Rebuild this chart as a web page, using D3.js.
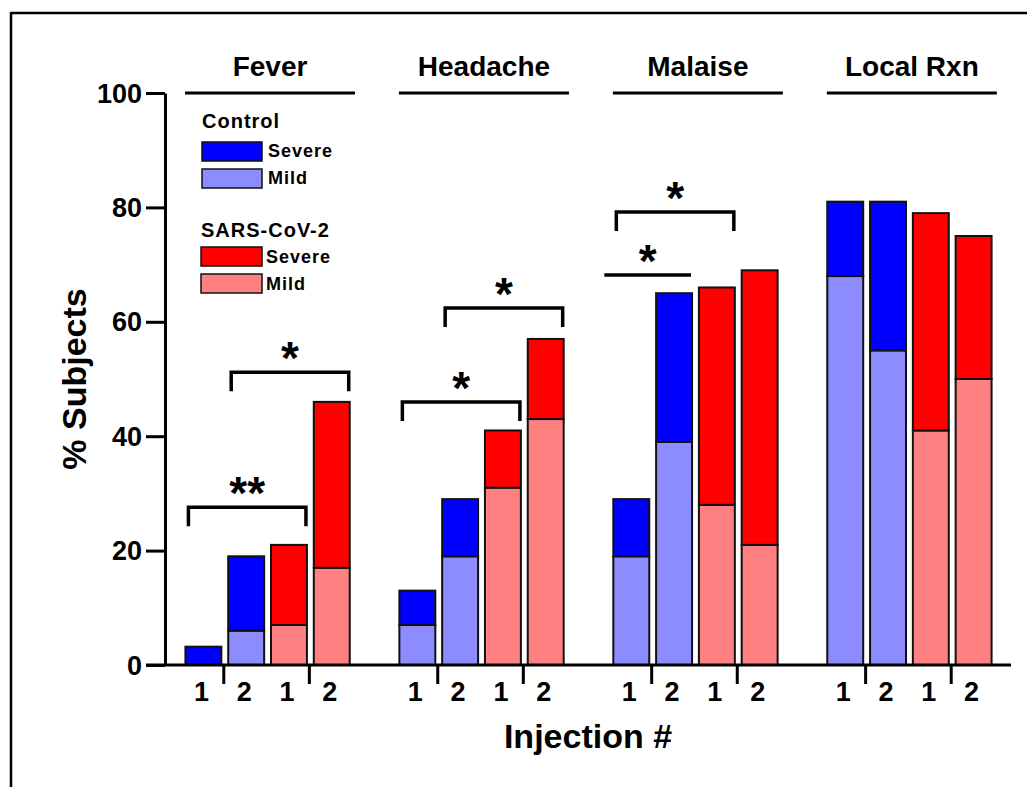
<!DOCTYPE html>
<html>
<head>
<meta charset="utf-8">
<script src="https://cdn.jsdelivr.net/npm/d3@7"></script>
<style>
  html, body { margin: 0; padding: 0; background: #fff; }
  svg { display: block; }
  text { font-family: "Liberation Sans", Arial, Helvetica, sans-serif; font-weight: bold; fill: #000; }
</style>
</head>
<body>
<svg id="chart" width="1027" height="787"></svg>
<script>
// ---------- data ----------
const symptoms = ["Fever", "Headache", "Malaise", "Local Rxn"];
const barKeys = ["C1", "C2", "S1", "S2"];
const barLabels = ["1", "2", "1", "2"];
const barGroup = ["Control", "Control", "SARS-CoV-2", "SARS-CoV-2"];

// % subjects, per symptom, bars in order Control #1, Control #2, SARS #1, SARS #2
const mildValues = {
  "Fever":     [0, 6, 7, 17],
  "Headache":  [7, 19, 31, 43],
  "Malaise":   [19, 39, 28, 21],
  "Local Rxn": [68, 55, 41, 50]
};
const severeValues = {
  "Fever":     [3.2, 13, 14, 29],
  "Headache":  [6, 10, 10, 14],
  "Malaise":   [10, 26, 38, 48],
  "Local Rxn": [13, 26, 38, 25]
};
const yTicks = [0, 20, 40, 60, 80, 100];

// significance comparisons: symptom, from bar, to bar, bracket level (%), label, drop ends
const comparisons = [
  { symptom: "Fever",    from: 0, to: 2, level: 27.6, label: "**", ends: true },
  { symptom: "Fever",    from: 1, to: 3, level: 51.2, label: "*",  ends: true },
  { symptom: "Headache", from: 0, to: 2, level: 46.0, label: "*",  ends: true },
  { symptom: "Headache", from: 1, to: 3, level: 62.4, label: "*",  ends: true },
  { symptom: "Malaise",  from: 0, to: 1, level: 68.2, label: "*",  ends: false },
  { symptom: "Malaise",  from: 0, to: 2, level: 79.2, label: "*",  ends: true }
];

const legendGroups = ["Control", "SARS-CoV-2"];
const legendLevels = ["Severe", "Mild"];

const colors = {
  "Control":    { "Severe": "#0000ff", "Mild": "#8c8cff" },
  "SARS-CoV-2": { "Severe": "#ff0000", "Mild": "#ff8080" }
};

// ---------- layout ----------
const svg = d3.select("#chart");

// frame (top and left edges)
svg.append("line").attr("x1", 11).attr("x2", 1027).attr("y1", 13).attr("y2", 13)
  .attr("stroke", "#000").attr("stroke-width", 2.5);
svg.append("line").attr("x1", 11).attr("x2", 11).attr("y1", 12).attr("y2", 787)
  .attr("stroke", "#000").attr("stroke-width", 2.5);

const y = d3.scaleLinear().domain([0, 100]).range([665, 93]);
const xOuter = d3.scaleBand().domain(symptoms).range([182, 995]).paddingInner(0.2).paddingOuter(0);
const xInner = d3.scaleBand().domain(barKeys).range([0, xOuter.bandwidth()]).paddingInner(0.16).paddingOuter(0.08);

const barX = (s, i) => xOuter(s) + xInner(barKeys[i]);
const bw = xInner.bandwidth();

// ---------- bars ----------
const barData = [];
symptoms.forEach(s => {
  barKeys.forEach((k, i) => {
    const g = barGroup[i];
    const m = mildValues[s][i];
    const sv = severeValues[s][i];
    if (m > 0) barData.push({ s, i, y0: 0, y1: m, fill: colors[g]["Mild"] });
    barData.push({ s, i, y0: m, y1: m + sv, fill: colors[g]["Severe"] });
  });
});

svg.append("g").selectAll("rect").data(barData).join("rect")
  .attr("x", d => barX(d.s, d.i))
  .attr("width", bw)
  .attr("y", d => y(d.y1))
  .attr("height", d => y(d.y0) - y(d.y1))
  .attr("fill", d => d.fill)
  .attr("stroke", "#111")
  .attr("stroke-width", 2);

// ---------- y axis ----------
const yAxis = d3.axisLeft(y).tickValues(yTicks).tickSize(19).tickSizeOuter(0).tickPadding(4);
const yg = svg.append("g").attr("transform", "translate(165,0)").call(yAxis);
yg.select(".domain").attr("stroke", "#000").attr("stroke-width", 3);
yg.selectAll(".tick line").attr("stroke", "#000").attr("stroke-width", 3);
yg.selectAll(".tick text").style("font-size", "27px").style("font-family", "'Liberation Sans', Arial, sans-serif")
  .style("font-weight", "bold").attr("fill", "#000").attr("dy", "0.34em");

// ---------- x axis ----------
svg.append("line").attr("x1", 146).attr("x2", 1011).attr("y1", y(0)).attr("y2", y(0))
  .attr("stroke", "#000").attr("stroke-width", 3);

const xTickData = [];
symptoms.forEach(s => {
  [0, 2].forEach(i => {
    xTickData.push((barX(s, i) + bw + barX(s, i + 1)) / 2 - 1);
  });
});
svg.append("g").selectAll("line").data(xTickData).join("line")
  .attr("x1", d => d).attr("x2", d => d)
  .attr("y1", y(0)).attr("y2", y(0) + 19)
  .attr("stroke", "#000").attr("stroke-width", 3);

const xLabelData = [];
symptoms.forEach(s => barKeys.forEach((k, i) => xLabelData.push({ s, i })));
svg.append("g").selectAll("text").data(xLabelData).join("text")
  .attr("x", d => barX(d.s, d.i) + bw / 2 - 2)
  .attr("y", 701)
  .attr("text-anchor", "middle")
  .style("font-size", "27px")
  .text(d => barLabels[d.i]);

// axis titles
svg.append("text").attr("x", 588).attr("y", 748).attr("text-anchor", "middle")
  .style("font-size", "34px").text("Injection #");
svg.append("text").attr("transform", "translate(86,379) rotate(-90)").attr("text-anchor", "middle")
  .style("font-size", "34px").text("% Subjects");

// ---------- symptom headers ----------
const hdr = svg.append("g").selectAll("g").data(symptoms).join("g");
hdr.append("line")
  .attr("x1", d => xOuter(d) + 3).attr("x2", d => xOuter(d) + 173)
  .attr("y1", 93).attr("y2", 93)
  .attr("stroke", "#000").attr("stroke-width", 3);
hdr.append("text")
  .attr("x", d => xOuter(d) + 88).attr("y", 76)
  .attr("text-anchor", "middle")
  .style("font-size", "28px")
  .text(d => d);

// ---------- significance brackets ----------
const drop = 19;
const br = svg.append("g").selectAll("g").data(comparisons).join("g");
br.append("path")
  .attr("d", d => {
    const x1 = barX(d.symptom, d.from) + (d.ends ? 3 : -9);
    const x2 = barX(d.symptom, d.to) + bw - 1;
    const yy = y(d.level);
    return d.ends
      ? `M${x1},${yy + drop}V${yy}H${x2}V${yy + drop}`
      : `M${x1},${yy}H${x2}`;
  })
  .attr("fill", "none").attr("stroke", "#000").attr("stroke-width", 3.5);
br.append("text")
  .attr("x", d => {
    const x1 = barX(d.symptom, d.from) + (d.ends ? 3 : -9);
    const x2 = barX(d.symptom, d.to) + bw - 1;
    return (x1 + x2) / 2;
  })
  .attr("y", d => y(d.level) + 2)
  .attr("text-anchor", "middle")
  .style("font-size", "46px")
  .text(d => d.label);

// ---------- legend ----------
const legendTop = [128, 237];
const leg = svg.append("g").selectAll("g").data(legendGroups).join("g")
  .attr("transform", (d, gi) => `translate(${gi === 0 ? 202 : 201},${legendTop[gi]})`);
leg.append("text").attr("x", 0).attr("y", 0)
  .style("font-size", "20px").style("letter-spacing", "1px").text(d => d);
legendLevels.forEach((lv, li) => {
  leg.append("rect")
    .attr("x", 0).attr("y", (d, gi) => (gi === 0 ? 14 : 10) + li * 27)
    .attr("width", (d, gi) => gi === 0 ? 60 : 61).attr("height", 19)
    .attr("fill", d => colors[d][lv])
    .attr("stroke", "#111").attr("stroke-width", 1.5);
  leg.append("text")
    .attr("x", (d, gi) => gi === 0 ? 66 : 65)
    .attr("y", (d, gi) => (gi === 0 ? 29 : 26) + li * 27)
    .style("font-size", "18px").style("letter-spacing", "1px")
    .text(lv);
});
</script>
</body>
</html>
